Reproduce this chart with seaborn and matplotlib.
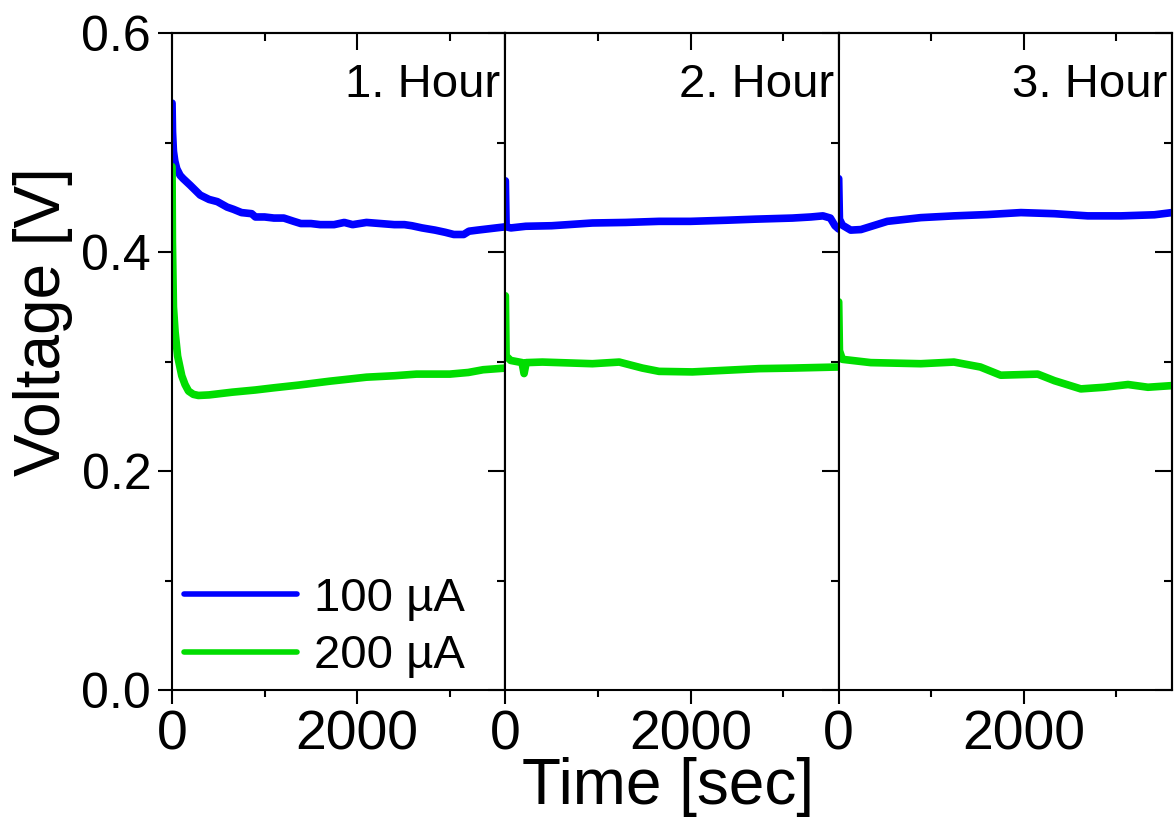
import matplotlib
matplotlib.use("Agg")
import matplotlib.pyplot as plt
from matplotlib.ticker import MultipleLocator, FixedLocator, FormatStrFormatter
from matplotlib.lines import Line2D
import seaborn as sns
import pandas as pd

sns.set_style("ticks")
plt.rcParams["font.family"] = ["Liberation Sans", "DejaVu Sans"]
plt.rcParams.update({"text.color": "black", "axes.labelcolor": "black",
                     "xtick.color": "black", "ytick.color": "black"})

# ---- measured voltage traces, one hour per panel ----
hours = ["1. Hour", "2. Hour", "3. Hour"]
currents = ["100 µA", "200 µA"]
colors = {"100 µA": "#0000FF", "200 µA": "#00DD00"}

# hour 1
t1_100 = [0, 5, 15, 30, 51, 87, 120, 196, 304, 400, 489, 595, 663, 750, 860,
          900, 1000, 1100, 1207, 1315, 1391, 1500, 1600, 1750, 1860, 1950,
          2100, 2250, 2400, 2510, 2590, 2700, 2840, 2950, 3043, 3150, 3207,
          3300, 3400, 3500, 3600]
v1_100 = [0.536, 0.510, 0.492, 0.483, 0.476, 0.470, 0.467, 0.461, 0.452,
          0.448, 0.446, 0.441, 0.439, 0.436, 0.435, 0.432, 0.432, 0.431, 0.431,
          0.428, 0.426, 0.426, 0.425, 0.425, 0.427, 0.425, 0.427, 0.426, 0.425,
          0.425, 0.424, 0.422, 0.420, 0.418, 0.416, 0.416, 0.419, 0.420, 0.421,
          0.422, 0.423]
t1_200 = [0, 4, 15, 33, 60, 105, 140, 178, 230, 285, 400, 650, 900, 1100, 1370,
          1700, 2100, 2400, 2640, 3000, 3200, 3360, 3600]
v1_200 = [0.478, 0.410, 0.350, 0.327, 0.305, 0.287, 0.279, 0.273, 0.270, 0.269,
          0.2695, 0.272, 0.274, 0.276, 0.2785, 0.282, 0.2857, 0.287, 0.2885,
          0.2885, 0.290, 0.2925, 0.294]

# hour 2
t2_100 = [0, 8, 60, 220, 500, 940, 1300, 1660, 2000, 2380, 2700, 3100, 3300,
          3430, 3510, 3560, 3600]
v2_100 = [0.465, 0.423, 0.422, 0.4235, 0.424, 0.4265, 0.427, 0.428, 0.428,
          0.429, 0.430, 0.431, 0.432, 0.433, 0.431, 0.424, 0.421]
t2_200 = [0, 8, 57, 180, 202, 225, 400, 940, 1230, 1480, 1660, 2020, 2380,
          2740, 3100, 3600]
v2_200 = [0.360, 0.305, 0.301, 0.299, 0.289, 0.299, 0.2995, 0.298, 0.2995,
          0.294, 0.291, 0.2905, 0.292, 0.2935, 0.294, 0.295]

# hour 3
t3_100 = [0, 8, 40, 130, 240, 525, 887, 1245, 1605, 1968, 2330, 2690, 3050,
          3410, 3600]
v3_100 = [0.467, 0.430, 0.4245, 0.420, 0.4205, 0.428, 0.4314, 0.433, 0.4342,
          0.436, 0.435, 0.433, 0.433, 0.434, 0.436]
t3_200 = [0, 8, 40, 346, 887, 1245, 1530, 1750, 2150, 2330, 2615, 2870, 3125,
          3340, 3600]
v3_200 = [0.3545, 0.310, 0.302, 0.299, 0.298, 0.2995, 0.295, 0.2875, 0.2885,
          0.2825, 0.275, 0.2765, 0.279, 0.2765, 0.278]

traces = {
    ("1. Hour", "100 µA"): (t1_100, v1_100),
    ("1. Hour", "200 µA"): (t1_200, v1_200),
    ("2. Hour", "100 µA"): (t2_100, v2_100),
    ("2. Hour", "200 µA"): (t2_200, v2_200),
    ("3. Hour", "100 µA"): (t3_100, v3_100),
    ("3. Hour", "200 µA"): (t3_200, v3_200),
}

rows = []
for (hour, cur), (ts, vs) in traces.items():
    for t, v in zip(ts, vs):
        rows.append({"hour": hour, "current": cur, "time": t, "voltage": v})
df = pd.DataFrame(rows)

fig, axes = plt.subplots(1, 3, figsize=(11.76, 8.25), dpi=100, sharey=True)
fig.subplots_adjust(left=0.1463, right=0.9966, top=0.96, bottom=0.1636, wspace=0)

spine_w = 1.5
for i, (ax, hour) in enumerate(zip(axes, hours)):
    sub = df[df["hour"] == hour]
    sns.lineplot(data=sub, x="time", y="voltage", hue="current",
                 hue_order=currents, palette=colors, estimator=None,
                 sort=False, lw=5.5, legend=False, ax=ax)
    ax.set_xlim(0, 3600)
    ax.set_ylim(0, 0.6)
    ax.set_xlabel("")
    ax.set_ylabel("")
    for sp in ax.spines.values():
        sp.set_visible(True)
        sp.set_linewidth(spine_w)
        sp.set_color("black")

    ax.xaxis.set_major_locator(FixedLocator([0, 2000]))
    ax.xaxis.set_minor_locator(FixedLocator([1000, 3000]))
    ax.yaxis.set_major_locator(MultipleLocator(0.2))
    ax.yaxis.set_minor_locator(MultipleLocator(0.1))
    ax.tick_params(axis="x", which="both", direction="out", top=False,
                   labelsize=40, pad=4, width=spine_w)
    ax.tick_params(axis="x", which="major", length=10)
    ax.tick_params(axis="x", which="minor", length=5)
    ax.tick_params(axis="y", which="both", direction="out", right=False,
                   labelsize=36, pad=5, width=spine_w, left=(i == 0))
    ax.tick_params(axis="y", which="major", length=10)
    ax.tick_params(axis="y", which="minor", length=5)
    ax.yaxis.set_major_formatter(FormatStrFormatter("%.1f"))

    # inward ticks along the top and right edges
    top = ax.secondary_xaxis("top")
    top.xaxis.set_major_locator(FixedLocator([0, 2000]))
    top.xaxis.set_minor_locator(FixedLocator([1000, 3000]))
    top.tick_params(axis="x", which="both", direction="in", labeltop=False,
                    width=spine_w)
    top.tick_params(axis="x", which="major", length=12)
    top.tick_params(axis="x", which="minor", length=6)
    right = ax.secondary_yaxis("right")
    right.yaxis.set_major_locator(MultipleLocator(0.2))
    right.yaxis.set_minor_locator(MultipleLocator(0.1))
    right.tick_params(axis="y", which="both", direction="in", labelright=False,
                      width=spine_w)
    right.tick_params(axis="y", which="major", length=12)
    right.tick_params(axis="y", which="minor", length=6)
    for s in list(top.spines.values()) + list(right.spines.values()):
        s.set_linewidth(spine_w)

    ax.text(0.985, 0.955, hour, transform=ax.transAxes, ha="right", va="top",
            fontsize=34)

handles = [Line2D([], [], color=colors[c], lw=4, solid_capstyle="round")
           for c in currents]
axes[0].legend(handles, currents, loc="lower left", frameon=False,
               fontsize=34, handlelength=2.4, handletextpad=0.35,
               labelspacing=0.28, borderaxespad=0, borderpad=0,
               bbox_to_anchor=(0.035, 0.018))

fig.text(43 / 1176, 1 - 322 / 825, "Voltage [V]", rotation=90, ha="center",
         va="center", fontsize=46)
fig.text(668 / 1176, 1 - 787 / 825, "Time [sec]", ha="center", va="center",
         fontsize=46)

fig.savefig("out.png", dpi=100, facecolor="white")
